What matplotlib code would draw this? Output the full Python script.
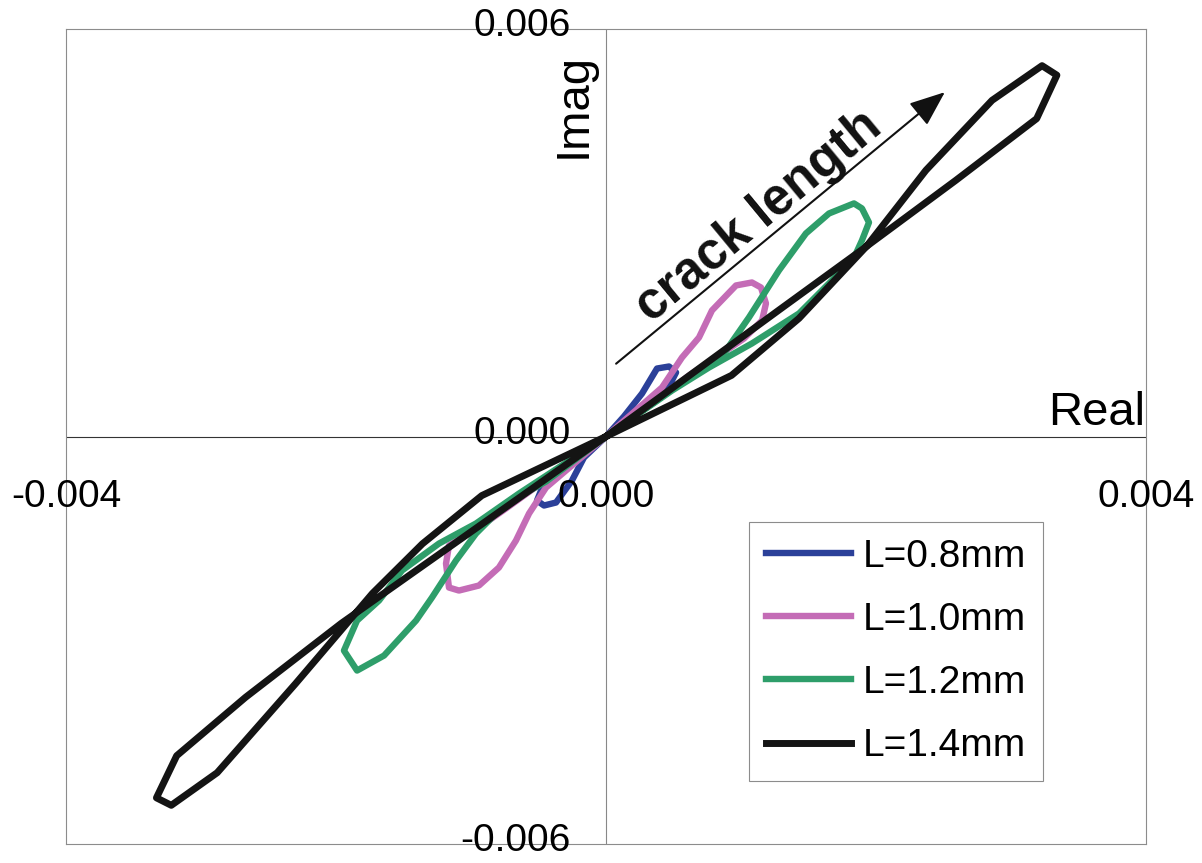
import numpy as np
import matplotlib.pyplot as plt

plt.rcParams['font.family'] = ['Liberation Sans', 'DejaVu Sans']

# crack lengths and colours
labels = ['L=0.8mm', 'L=1.0mm', 'L=1.2mm', 'L=1.4mm']
colors = ['#2B4099', '#C46CB6', '#2E9E6A', '#141414']
widths = [4.6, 4.6, 4.6, 5.0]

# loop traces, units of 1e-3 (real, imag)
re_08 = [0, 0.133, 0.267, 0.378, 0.467, 0.519, 0.481, 0.296, 0.148, 0,
         -0.148, -0.296, -0.481, -0.511, -0.459, -0.370, -0.252, -0.163, 0]
im_08 = [0, 0.295, 0.633, 1.001, 1.031, 0.943, 0.795, 0.471, 0.206, 0,
         -0.206, -0.471, -0.795, -0.943, -1.016, -0.972, -0.648, -0.309, 0]

re_10 = [0, 0.415, 0.563, 0.689, 0.785, 0.963, 1.081, 1.148, 1.185, 1.156,
         1.022, 0.837, 0.615, 0.319, 0,
         -0.319, -0.741, -0.941, -1.163, -1.185, -1.163, -1.089, -0.941,
         -0.793, -0.667, -0.570, -0.444, 0]
im_10 = [0, 0.722, 1.163, 1.458, 1.856, 2.224, 2.268, 2.194, 1.959, 1.708,
         1.443, 1.193, 0.898, 0.457, 0,
         -0.457, -1.060, -1.340, -1.605, -1.870, -2.224, -2.268, -2.194,
         -1.929, -1.532, -1.134, -0.751, 0]

re_12 = [0, 0.889, 1.059, 1.281, 1.481, 1.652, 1.837, 1.896, 1.948, 1.896,
         1.852, 1.674, 1.430, 1.081, 0.763, 0.489, 0,
         -0.644, -0.963, -1.237, -1.511, -1.681, -1.844, -1.941, -1.844,
         -1.644, -1.407, -1.289, -1.111, -0.963, -0.741, -0.444, 0]
im_12 = [0, 1.267, 1.753, 2.445, 2.990, 3.284, 3.432, 3.358, 3.152, 2.887,
         2.695, 2.298, 1.812, 1.370, 1.016, 0.677, 0,
         -0.839, -1.281, -1.576, -1.973, -2.415, -2.710, -3.152, -3.446,
         -3.225, -2.710, -2.371, -1.826, -1.429, -0.987, -0.663, 0]

re_14 = [0, 1.28, 1.91, 2.59, 3.19, 3.34, 3.23, 2.86, 2.37, 1.93, 1.43, 0.93, 0,
         -0.92, -1.36, -1.73, -2.30, -2.88, -3.22, -3.33, -3.18, -2.67, -1.96, 0]
im_14 = [0, 1.86, 2.77, 3.77, 4.68, 5.32, 5.46, 4.95, 3.92, 2.80, 1.74, 0.90, 0,
         -0.87, -1.58, -2.31, -3.64, -4.95, -5.43, -5.32, -4.70, -3.84, -2.75, 0]

xticks = [-0.004, 0.0, 0.004]
xtick_labels = ['-0.004', '0.000', '0.004']
yticks = [-0.006, 0.0, 0.006]
ytick_labels = ['-0.006', '0.000', '0.006']

fig = plt.figure(figsize=(12.02, 8.63), dpi=100)
ax = fig.add_axes([0.0549, 0.022, 0.8985, 0.9444])

series = [(re_08, im_08), (re_10, im_10), (re_12, im_12), (re_14, im_14)]
for (re, im), c, w, lab in zip(series, colors, widths, labels):
    ax.plot(np.array(re) * 1e-3, np.array(im) * 1e-3, color=c, lw=w, label=lab)

ax.set_xlim(-0.004, 0.004)
ax.set_ylim(-0.006, 0.006)
ax.set_xticks([])
ax.set_yticks([])
for s in ax.spines.values():
    s.set_color('#8c8c8c')
    s.set_linewidth(0.8)
ax.axhline(0, color='#333333', lw=0.8, zorder=0)
ax.axvline(0, color='#888888', lw=0.8, zorder=0)

for v, t in zip(xticks, xtick_labels):
    ax.annotate(t, (v, 0), xytext=(0, -60), textcoords='offset pixels',
                ha='center', va='center', fontsize=28, annotation_clip=False)
for v, t in zip(yticks, ytick_labels):
    ax.annotate(t, (0, v), xytext=(-35, 3), textcoords='offset pixels',
                ha='right', va='center', fontsize=28, annotation_clip=False)

ax.text(0.00399, 0.00017, 'Real', ha='right', va='baseline', fontsize=34)
ax.text(-0.000074, 0.00565, 'Imag', rotation=90, ha='right', va='top', fontsize=34)

# crack length arrow
ax.annotate('', xy=(0.002526, 0.005096), xytext=(0.000059, 0.001046),
            arrowprops=dict(arrowstyle='-|>,head_length=0.55,head_width=0.22',
                            color='#111111', lw=1.5, mutation_scale=40))
ax.text(0.00120, 0.00308, 'crack length', rotation=39.6, rotation_mode='anchor',
        ha='center', va='baseline', fontsize=37, fontweight='bold', color='#111111')

leg = ax.legend(loc='lower right', bbox_to_anchor=(0.9046, 0.0773), fontsize=28,
                frameon=True, fancybox=False, edgecolor='#8c8c8c', framealpha=1,
                handlelength=2.2, handletextpad=0.3, labelspacing=0.7,
                borderpad=0.43, borderaxespad=0)
leg.get_frame().set_linewidth(0.8)

fig.savefig('out.png', dpi=100)
